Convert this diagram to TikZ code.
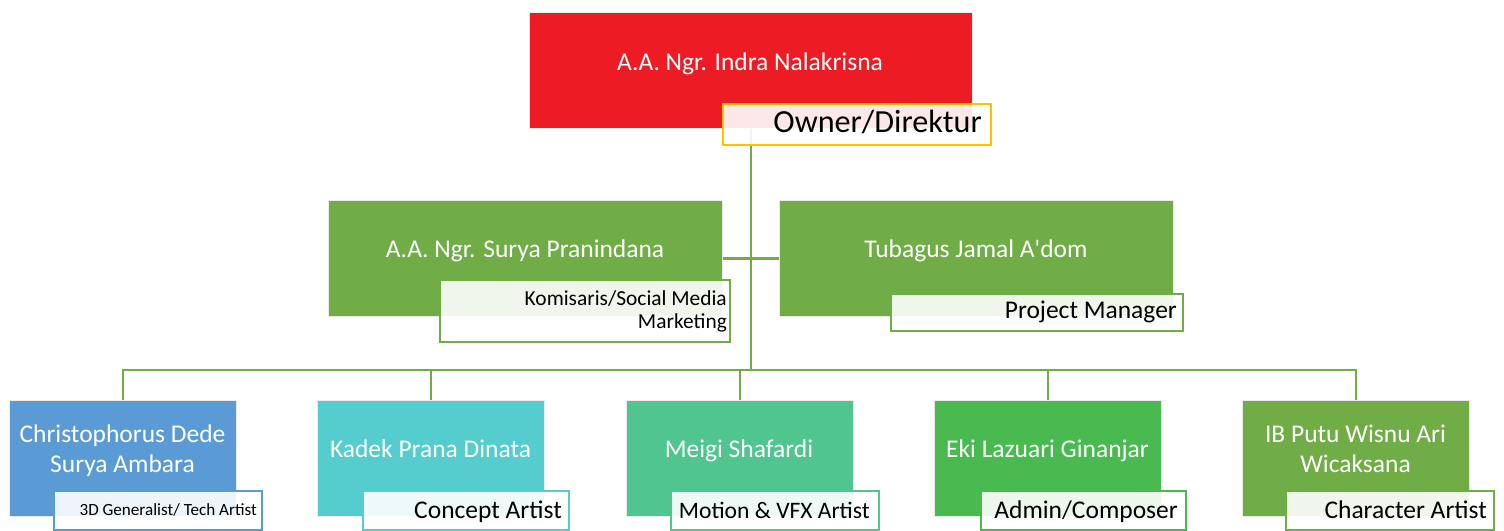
\documentclass[tikz,border=0pt]{standalone}
\usepackage{fontspec}
\setmainfont{Carlito}
\definecolor{cred}{HTML}{ED1C24}
\definecolor{cgreen}{HTML}{70AD47}
\definecolor{cblue}{HTML}{5B9BD5}
\definecolor{ccyan}{HTML}{55CCCD}
\definecolor{cmint}{HTML}{50C590}
\definecolor{clime}{HTML}{48BA50}
\definecolor{corange}{HTML}{FFC000}
\begin{document}
\begin{tikzpicture}[x=1pt,y=-1pt,
  box/.style={rectangle, draw=black!8, line width=1.2pt, inner sep=0pt, anchor=north west},
  lbl/.style={rectangle, fill=white, fill opacity=0.9, line width=2pt, inner sep=0pt, anchor=north west},
  conn/.style={draw=cgreen, line width=2.5pt},
  nametext/.style={text=white, font=\fontsize{25.5}{30}\selectfont, inner sep=0pt, anchor=base},
  roletext/.style={text=black, font=\fontsize{25.5}{30}\selectfont, inner sep=0pt, anchor=base east}]
\useasboundingbox (0,0) rectangle (1504,530);
% boxes
\node[box, fill=cred, minimum width=443, minimum height=116] (top) at (529,12) {};
\node[box, fill=cgreen, minimum width=394, minimum height=116] (sl) at (328,200) {};
\node[box, fill=cgreen, minimum width=394, minimum height=116] (sr) at (779,200) {};
\node[box, fill=cblue, minimum width=227, minimum height=116] (b1) at (9,400) {};
\node[box, fill=ccyan, minimum width=227, minimum height=116] (b2) at (317,400) {};
\node[box, fill=cmint, minimum width=227, minimum height=116] (b3) at (626,400) {};
\node[box, fill=clime, minimum width=227, minimum height=116] (b4) at (934,400) {};
\node[box, fill=cgreen, minimum width=227, minimum height=116] (b5) at (1242,400) {};
% connectors
\coordinate (bus) at (750,370);
\draw[conn] (top.south) -- (top.south |- bus);
\draw[conn] (sl.east) -- (sr.west);
\draw[conn] (b1.north) |- (b5.north |- bus) -- (b5.north);
\draw[conn] (b2.north) -- (b2.north |- bus);
\draw[conn] (b3.north) -- (b3.north |- bus);
\draw[conn] (b4.north) -- (b4.north |- bus);
% label boxes
\node[lbl, draw=corange, minimum width=268, minimum height=41] (ltop) at (722,103) {};
\node[lbl, draw=cgreen, minimum width=290, minimum height=62] (lsl) at (439,279) {};
\node[lbl, draw=cgreen, minimum width=292, minimum height=37] (lsr) at (890,293) {};
\node[lbl, draw=cblue, minimum width=208, minimum height=39] (lb1) at (53,490) {};
\node[lbl, draw=ccyan, minimum width=206, minimum height=39] (lb2) at (362,490) {};
\node[lbl, draw=cmint, minimum width=208, minimum height=39] (lb3) at (670,490) {};
\node[lbl, draw=clime, minimum width=205, minimum height=39] (lb4) at (980,490) {};
\node[lbl, draw=cgreen, minimum width=208, minimum height=39] (lb5) at (1285,490) {};
% names
\node[nametext] (ttop) at (750,70) {A.A. Ngr. Indra Nalakrisna};
\node[nametext] (tsl) at (525,257) {A.A. Ngr. Surya Pranindana};
\node[nametext] (tsr) at (976,257) {Tubagus Jamal A\textquotesingle dom};
\node[nametext] (tb1a) at (122.5,442) {Christophorus Dede};
\node[nametext] (tb1b) at (122.5,472) {Surya Ambara};
\node[nametext] (tb2) at (430.5,457) {Kadek Prana Dinata};
\node[nametext] (tb3) at (739,457) {Meigi Shafardi};
\node[nametext] (tb4) at (1047.5,457) {Eki Lazuari Ginanjar};
\node[nametext] (tb5a) at (1355.5,442) {IB Putu Wisnu Ari};
\node[nametext] (tb5b) at (1355.5,472) {Wicaksana};
% roles
\node[roletext, font=\fontsize{32.2}{36}\selectfont] (rtop) at (982,132) {Owner/Direktur};
\node[roletext, font=\fontsize{21.4}{23}\selectfont] (rsla) at (727,305) {Komisaris/Social Media};
\node[roletext, font=\fontsize{21.4}{23}\selectfont] (rslb) at (727,328) {Marketing};
\node[roletext] (rsr) at (1177,318) {Project Manager};
\node[roletext, font=\fontsize{17.1}{20}\selectfont] (rb1) at (257,515) {3D Generalist/ Tech Artist};
\node[roletext] (rb2) at (562,518) {Concept Artist};
\node[roletext, font=\fontsize{23.6}{28}\selectfont] (rb3) at (870,518) {Motion \& VFX Artist};
\node[roletext] (rb4) at (1178,518) {Admin/Composer};
\node[roletext] (rb5) at (1487,518) {Character Artist};
\end{tikzpicture}
\end{document}
